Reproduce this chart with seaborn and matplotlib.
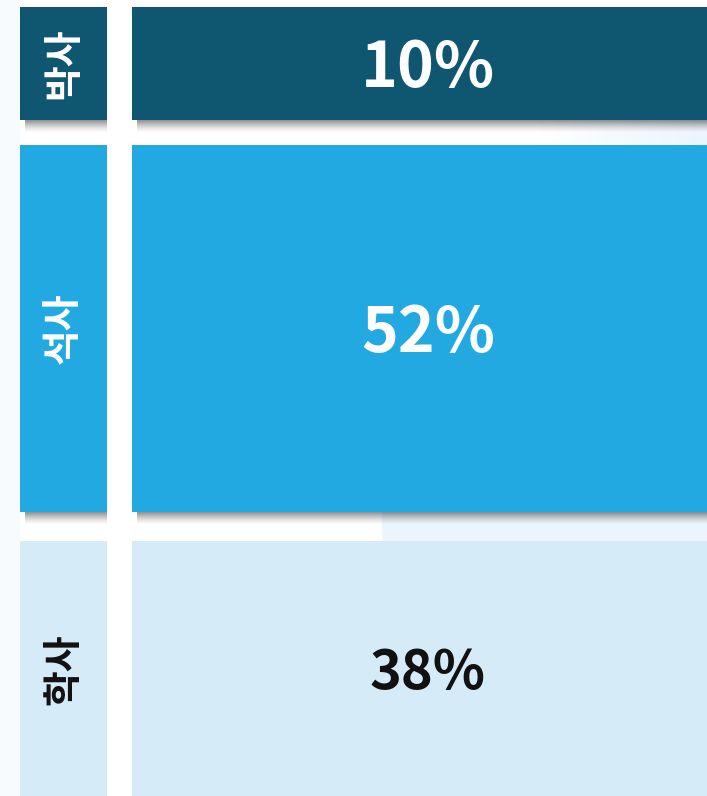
import matplotlib
matplotlib.use('Agg')
import numpy as np
import matplotlib.pyplot as plt
import seaborn as sns

# ---------------------------
# Data
# ---------------------------
degrees = ["박사", "석사", "학사"]
shares = [10, 52, 38]
value_labels = [f"{s}%" for s in shares]

# ---------------------------
# Style / layout (pixel units, y grows downward)
# ---------------------------
block_colors = ["#0f5670", "#23a9e1", "#d5ecf8"]
text_colors = ["white", "white", "#111111"]
value_sizes = [45, 45, 39]
row_tops = [7, 145, 541]
row_heights = [113, 367, 256]
label_left, label_width = 20, 87
bar_left, bar_width = 132, 592
text_shift = 5

W, H = 707, 796

sns.set_theme(style="white")
plt.rcParams['font.family'] = ['Noto Sans CJK KR', 'DejaVu Sans']

fig = plt.figure(figsize=(W / 100, H / 100), dpi=100)
ax = fig.add_axes([0, 0, 1, 1])
ax.set_xlim(0, W)
ax.set_ylim(H, 0)
ax.axis("off")

# faint background shapes
ax.add_patch(plt.Rectangle((0, 0), 20, H, color="#f8fbfe", lw=0, zorder=0))
ax.add_patch(plt.Polygon([(380, 420), (W, 420), (W, H), (388, H)],
                         color="#ecf5fc", lw=0, zorder=0))
grad = np.zeros((1, 100, 4))
grad[..., :3] = np.array([0.93, 0.96, 0.99])
grad[..., 3] = np.linspace(0, 1, 100)
ax.imshow(grad, extent=(540, W, 160, 100), aspect="auto", zorder=0)


def shadow(x0, x1, y):
    g = np.zeros((30, 1, 4))
    g[..., 3] = (np.linspace(0.55, 0, 30) ** 1.4)[:, None]
    ax.imshow(g, extent=(x0, x1, y + 13, y), aspect="auto", zorder=1,
              interpolation="bilinear")


for i, deg in enumerate(degrees):
    top, h = row_tops[i], row_heights[i]
    y = top + h / 2
    if i < 2:
        shadow(label_left + 5, label_left + label_width, top + h)
        shadow(bar_left + 5, W, top + h)
    ax.barh(y, label_width, left=label_left, height=h,
            color=block_colors[i], lw=0, zorder=2)
    ax.barh(y, bar_width, left=bar_left, height=h,
            color=block_colors[i], lw=0, zorder=2)
    ax.text(label_left + label_width / 2, y, deg, rotation=90,
            ha="center", va="center", fontsize=28, fontweight="bold",
            color=text_colors[i], zorder=3)
    ax.text(bar_left + bar_width / 2, y + text_shift, value_labels[i],
            ha="center", va="center", fontsize=value_sizes[i],
            fontweight="bold", color=text_colors[i], zorder=3)

fig.savefig("out.png", dpi=100)
plt.close(fig)
